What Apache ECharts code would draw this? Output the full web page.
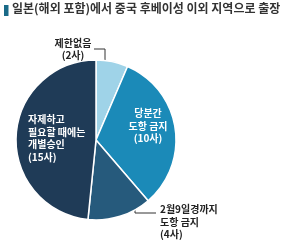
<!DOCTYPE html>
<html><head><meta charset="utf-8">
<script src="https://cdn.jsdelivr.net/npm/echarts@6/dist/echarts.min.js"></script>
<style>html,body{margin:0;padding:0;background:#fff}#c{width:295px;height:247px}</style>
</head><body><div id="c"></div>
<script>
const titleText = '일본(해외 포함)에서 중국 후베이성 이외 지역으로 출장';
const categories = ['제한없음', '당분간\n도항 금지', '2월9일경까지\n도항 금지', '자제하고\n필요할 때에는\n개별승인'];
const values = [2, 10, 4, 15];
const colors = ['#9fd3e8', '#1b8ab8', '#265a7c', '#1f3b57'];

const labelPos = [
  {x: 73, y: 49, align: 'center', verticalAlign: 'middle', labelLinePoints: [[94, 49], [105, 49], [105, 65]]},
  {x: 148, y: 126, align: 'center', verticalAlign: 'middle'},
  {x: 160, y: 222, align: 'left', verticalAlign: 'middle', labelLinePoints: [[135, 201], [135, 213], [156, 213]]},
  {x: 28, y: 138, align: 'left', verticalAlign: 'middle'}
];
const font = '"Noto Sans CJK KR", sans-serif';
const chart = echarts.init(document.getElementById('c'), null, {renderer: 'canvas'});
chart.setOption({
  animation: false,
  graphic: [
    {type: 'rect', shape: {x: 4, y: 5, width: 4.5, height: 11}, style: {fill: '#1a6a88'}},
    {type: 'text', left: 12, top: 2, style: {text: titleText, fontFamily: font, fontSize: 12, fontWeight: 'bold', fill: '#333'}}
  ],
  series: [{
    type: 'pie',
    center: [96, 140],
    radius: 80,
    startAngle: 90,
    clockwise: true,
    silent: true,
    itemStyle: {borderColor: '#fff', borderWidth: 1.5},
    data: values.map((v, i) => ({
      value: v,
      name: categories[i],
      itemStyle: {color: colors[i]},
      label: {
        show: true,
        position: (i === 0 || i === 2) ? 'outside' : 'inside',
        formatter: p => p.name + '\n(' + p.value + '사)',
        color: (i === 0 || i === 2) ? '#222' : '#fff',
        fontFamily: font,
        fontSize: 10,
        fontWeight: 'bold',
        lineHeight: 12.5,
        align: labelPos[i].align
      },
      labelLine: {show: (i === 0 || i === 2), lineStyle: {color: '#333', width: 1}}
    })),
    labelLayout: p => labelPos[p.dataIndex]
  }]
});
</script></body></html>
